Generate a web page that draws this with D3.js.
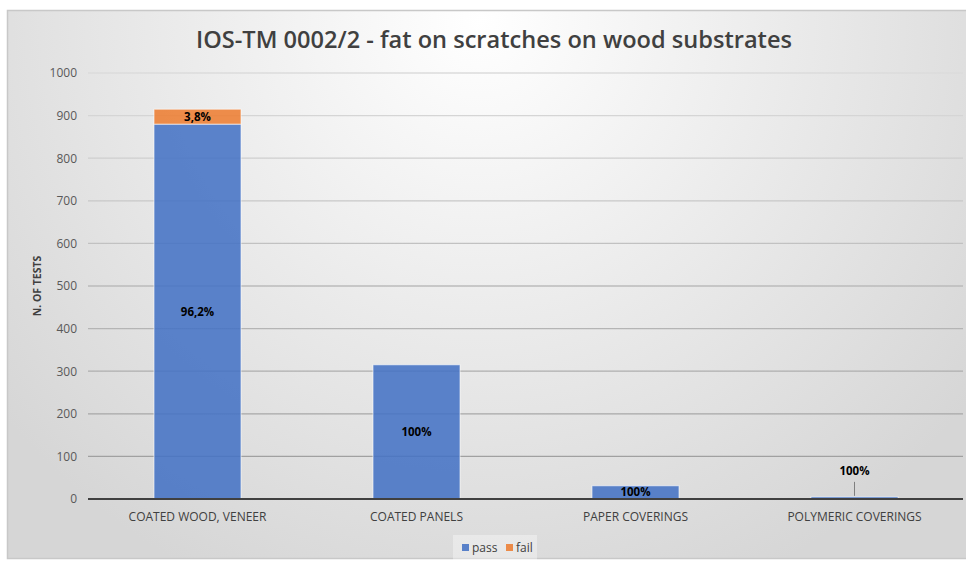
<!DOCTYPE html>
<html><head><meta charset="utf-8">
<script src="https://cdn.jsdelivr.net/npm/d3@7"></script>
<style>html,body{margin:0;padding:0;background:#fff;overflow:hidden}</style>
</head><body>
<svg id="c" width="966" height="562"></svg>
<script>
const categories = ["COATED WOOD, VENEER", "COATED PANELS", "PAPER COVERINGS", "POLYMERIC COVERINGS"];
const passValues = [880, 315, 31, 5];
const failValues = [35, 0, 0, 0];
const passLabels = ["96,2%", "100%", "100%", "100%"];
const failLabels = ["3,8%", "", "", ""];
const yTicks = [0, 100, 200, 300, 400, 500, 600, 700, 800, 900, 1000];
const seriesNames = ["pass", "fail"];
const colors = {pass: "#4472c4", fail: "#ed7d31"};

const svg = d3.select("#c");
const W = 966, H = 562;
const defs = svg.append("defs");
const bg = defs.append("radialGradient").attr("id","bg")
  .attr("gradientUnits","userSpaceOnUse").attr("cx",480).attr("cy",20).attr("r",620);
bg.append("stop").attr("offset","0%").attr("stop-color","#ffffff");
bg.append("stop").attr("offset","100%").attr("stop-color","#d6d6d6");
const gg = defs.append("linearGradient").attr("id","grid")
  .attr("gradientUnits","userSpaceOnUse").attr("x1",0).attr("y1",70).attr("x2",0).attr("y2",500);
gg.append("stop").attr("offset","0%").attr("stop-color","#dcdcdc");
gg.append("stop").attr("offset","100%").attr("stop-color","#9a9a9a");

svg.append("rect").attr("x",0).attr("y",0).attr("width",W).attr("height",H).attr("fill","#ffffff");
svg.append("rect").attr("x",7.5).attr("y",10.5).attr("width",W).attr("height",548)
  .attr("fill","url(#bg)").attr("stroke","#c8c8c8").attr("stroke-width",1.5);

const x = d3.scaleBand().domain(categories).range([88, 964]).paddingInner(0.6).paddingOuter(0.3);
const y = d3.scaleLinear().domain([0, 1000]).range([499, 73]);

// gridlines
svg.append("g").selectAll("line").data(yTicks.filter(d=>d>0)).join("line")
  .attr("x1",88).attr("x2",963).attr("y1",d=>y(d)).attr("y2",d=>y(d))
  .attr("stroke","url(#grid)").attr("stroke-width",1.3);

// y axis labels
const yAxis = d3.axisLeft(y).tickValues(yTicks).tickFormat(d3.format("d")).tickSize(0).tickPadding(0);
const ya = svg.append("g").attr("transform","translate(77,0)").call(yAxis);
ya.select(".domain").remove();
ya.selectAll("text").attr("font-family","Open Sans, sans-serif").attr("font-size",12).attr("fill","#595959");

// bars
const stack = categories.map((c,i)=>({c, pass: passValues[i], fail: failValues[i]}));
const stacked = d3.stack().keys(seriesNames)(stack);
const bw = 87;
svg.append("g").selectAll("g").data(stacked).join("g")
  .attr("fill", s=>colors[s.key]).attr("fill-opacity",0.87)
  .selectAll("rect").data(s=>s.filter(d=>d[1]-d[0]>0)).join("rect")
  .attr("x", d=>x(d.data.c)+x.bandwidth()/2-bw/2).attr("width", bw)
  .attr("y", d=>y(d[1])).attr("height", d=>y(d[0])-y(d[1]))
  .attr("stroke","#ffffff").attr("stroke-opacity",0.6).attr("stroke-width",1);

// x axis
svg.append("line").attr("x1",88).attr("x2",963).attr("y1",y(0)).attr("y2",y(0))
  .attr("stroke","#404040").attr("stroke-width",2);
const xAxis = d3.axisBottom(x).tickSize(0).tickPadding(13);
const xa = svg.append("g").attr("transform",`translate(0,${y(0)})`).call(xAxis);
xa.select(".domain").remove();
xa.selectAll("text").attr("font-family","Open Sans, sans-serif").attr("font-size",12).attr("fill","#404040");

// labels
const lab = svg.append("g").attr("font-family","Open Sans, sans-serif").attr("font-weight","bold")
  .attr("font-size",11.5).attr("fill","#000").attr("text-anchor","middle");
categories.forEach((c,i)=>{
  const cx = x(c)+x.bandwidth()/2;
  const top = y(passValues[i]), bot = y(0);
  if (bot-top > 12) {
    lab.append("text").attr("x",cx).attr("y",(top+bot)/2).attr("dy","0.35em").text(passLabels[i]);
  } else {
    svg.append("line").attr("x1",cx).attr("x2",cx).attr("y1",top-15).attr("y2",top-1).attr("stroke","#7f7f7f").attr("stroke-width",1);
    lab.append("text").attr("x",cx).attr("y",top-26).attr("dy","0.35em").text(passLabels[i]);
  }
  if (failValues[i] > 0) {
    lab.append("text").attr("x",cx).attr("y",(y(passValues[i])+y(passValues[i]+failValues[i]))/2).attr("dy","0.35em").text(failLabels[i]);
  }
});

// y title
svg.append("text").attr("transform","translate(37,286) rotate(-90)").attr("text-anchor","middle").attr("dy","0.35em")
  .attr("font-family","Open Sans, sans-serif").attr("font-weight","bold").attr("font-size",10.5).attr("fill","#404040")
  .text("N. OF TESTS");

// title
svg.append("text").attr("x",494).attr("y",40).attr("dy","0.35em").attr("text-anchor","middle")
  .attr("font-family","Open Sans, sans-serif").attr("font-weight","600").attr("font-size",24).attr("fill","#404040")
  .attr("textLength",596).attr("lengthAdjust","spacingAndGlyphs")
  .text("IOS-TM 0002/2 - fat on scratches on wood substrates");

// legend
const lg = svg.append("g").attr("transform","translate(453,535)");
lg.append("rect").attr("width",84).attr("height",25).attr("fill","#ffffff").attr("fill-opacity",0.35);
const items = lg.selectAll("g").data(seriesNames).join("g").attr("transform",(d,i)=>`translate(${9+i*44},12.5)`);
items.append("rect").attr("x",0).attr("y",-3.5).attr("width",7).attr("height",7).attr("fill",d=>colors[d]).attr("fill-opacity",0.87);
items.append("text").attr("x",10).attr("dy","0.35em").attr("font-family","Open Sans, sans-serif").attr("font-size",12).attr("fill","#404040").text(d=>d);
</script>
</body></html>
